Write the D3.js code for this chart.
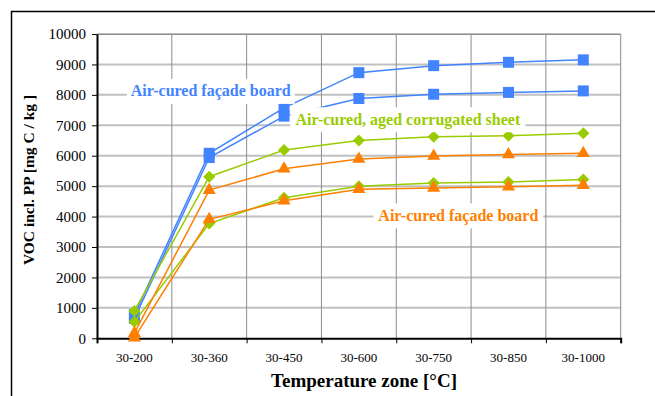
<!DOCTYPE html>
<html>
<head>
<meta charset="utf-8">
<style>
  body { margin: 0; background: #fff; }
  svg text { font-family: "Liberation Serif", "Times New Roman", serif; }
</style>
</head>
<body>
<script src="https://d3js.org/d3.v7.min.js"></script>
<div id="chart"></div>
<script>
// temperature zones (x categories)
var zones = ["30-200", "30-360", "30-450", "30-600", "30-750", "30-850", "30-1000"];

// VOC incl. PP [mg C / kg]
var boardBlueA  = [780, 6080, 7570, 8730, 8960, 9070, 9150];
var boardBlueB  = [650, 5940, 7300, 7880, 8020, 8080, 8130];
var sheetGreenA = [900, 5310, 6190, 6500, 6620, 6660, 6740];
var sheetGreenB = [540, 3770, 4620, 5000, 5100, 5140, 5220];
var boardOrangeA = [170, 4870, 5570, 5890, 5990, 6040, 6080];
var boardOrangeB = [20, 3910, 4520, 4900, 4940, 4980, 5030];

var yTicks = [0, 1000, 2000, 3000, 4000, 5000, 6000, 7000, 8000, 9000, 10000];

var blue = "#4283ff", green = "#99cc00", orange = "#ff7f00";
var serif = "Liberation Serif, Times New Roman, serif";

var series = [
  {values: boardBlueA, color: blue, shape: "square"},
  {values: boardBlueB, color: blue, shape: "square"},
  {values: sheetGreenA, color: green, shape: "diamond"},
  {values: sheetGreenB, color: green, shape: "diamond"},
  {values: boardOrangeA, color: orange, shape: "triangle"},
  {values: boardOrangeB, color: orange, shape: "triangle"}
];

// in-chart labels (position given in zone index / value units)
var notes = [
  {text: "Air-cured façade board", color: blue, at: 1.52, v: 8130, w: 168},
  {text: "Air-cured, aged corrugated sheet", color: green, at: 4.155, v: 7200, w: 235},
  {text: "Air-cured façade board", color: orange, at: 4.83, v: 4040, w: 170}
];

var W = 655, H = 396;
var margin = {top: 34, right: 34.3, bottom: 57.7, left: 97};
var width = W - margin.left - margin.right,
    height = H - margin.top - margin.bottom;

var svg = d3.select("#chart").append("svg")
  .attr("width", W).attr("height", H)
  .attr("font-family", serif);

// outer frame
svg.append("rect")
  .attr("x", 11.5).attr("y", 11.5)
  .attr("width", 700).attr("height", 420)
  .attr("fill", "none").attr("stroke", "#000").attr("stroke-width", 1.5);

var g = svg.append("g")
  .attr("transform", "translate(" + margin.left + "," + margin.top + ")");

var x = d3.scaleBand().domain(zones).range([0, width]);
var xb = d3.scaleLinear().domain([0, zones.length]).range([0, width]);
var y = d3.scaleLinear().domain([0, 10000]).range([height, 0]);

// horizontal grid
g.selectAll(".hgrid").data(yTicks.slice(1))
  .enter().append("line")
    .attr("x1", 0).attr("x2", width)
    .attr("y1", function(d) { return y(d); })
    .attr("y2", function(d) { return y(d); })
    .attr("stroke", "#c0c0c0").attr("stroke-width", 2);

// vertical grid at zone boundaries
g.selectAll(".vgrid").data(d3.range(1, zones.length + 1))
  .enter().append("line")
    .attr("x1", function(d) { return xb(d); })
    .attr("x2", function(d) { return xb(d); })
    .attr("y1", 0).attr("y2", height)
    .attr("stroke", "#8c8c8c").attr("stroke-width", 1);

g.append("line")
  .attr("x1", 0).attr("x2", width).attr("y1", 0.5).attr("y2", 0.5)
  .attr("stroke", "#8c8c8c");

// axes
var yAxis = g.append("g")
  .call(d3.axisLeft(y).tickValues(yTicks).tickFormat(d3.format("d"))
    .tickSize(5).tickSizeOuter(0).tickPadding(6))
  .attr("font-family", serif).attr("font-size", 15);
yAxis.selectAll("text").attr("fill", "#000");
yAxis.select(".domain").attr("stroke-width", 2);

var xTicks = g.append("g").attr("transform", "translate(0," + height + ")")
  .call(d3.axisBottom(xb).tickValues(d3.range(0, zones.length + 1)).tickSize(5).tickFormat(""));
xTicks.select(".domain").attr("stroke-width", 2);

var xLabels = g.append("g").attr("transform", "translate(0," + height + ")")
  .call(d3.axisBottom(x).tickSize(0).tickPadding(14))
  .attr("font-family", serif).attr("font-size", 13);
xLabels.select(".domain").remove();
xLabels.selectAll("text").attr("fill", "#000");

// axis titles
svg.append("text")
  .attr("transform", "translate(34,180) rotate(-90)")
  .attr("text-anchor", "middle")
  .attr("font-size", "15.5px").attr("font-weight", "bold")
  .text("VOC incl. PP [mg C / kg ]");

svg.append("text")
  .attr("x", 364).attr("y", 387)
  .attr("text-anchor", "middle")
  .attr("font-size", "19px").attr("font-weight", "bold")
  .text("Temperature zone [°C]");

// series lines and markers
var line = d3.line()
  .x(function(d, i) { return x(zones[i]) + x.bandwidth() / 2; })
  .y(function(d) { return y(d); });

var shapes = {
  square: "M-5.5,-5.5H5.5V5.5H-5.5Z",
  diamond: "M0,-6L6,0L0,6L-6,0Z",
  triangle: d3.symbol().type(d3.symbolTriangle).size(75)()
};

series.forEach(function(s) {
  g.append("path")
    .attr("d", line(s.values))
    .attr("fill", "none")
    .attr("stroke", s.color)
    .attr("stroke-width", 1.5);

  g.selectAll(null).data(s.values)
    .enter().append("path")
      .attr("transform", function(d, i) {
        return "translate(" + (x(zones[i]) + x.bandwidth() / 2) + "," + y(d) + ")";
      })
      .attr("d", shapes[s.shape])
      .attr("fill", s.color);
});

// labels with white boxes
notes.forEach(function(n) {
  var cx = xb(n.at), cy = y(n.v);
  g.append("rect")
    .attr("x", cx - n.w / 2).attr("y", cy - 12)
    .attr("width", n.w).attr("height", 25)
    .attr("fill", "#fff");
  g.append("text")
    .attr("x", cx).attr("y", cy + 5.5)
    .attr("text-anchor", "middle")
    .attr("font-size", "16px").attr("font-weight", "bold")
    .attr("fill", n.color)
    .text(n.text);
});
</script>
</body>
</html>
